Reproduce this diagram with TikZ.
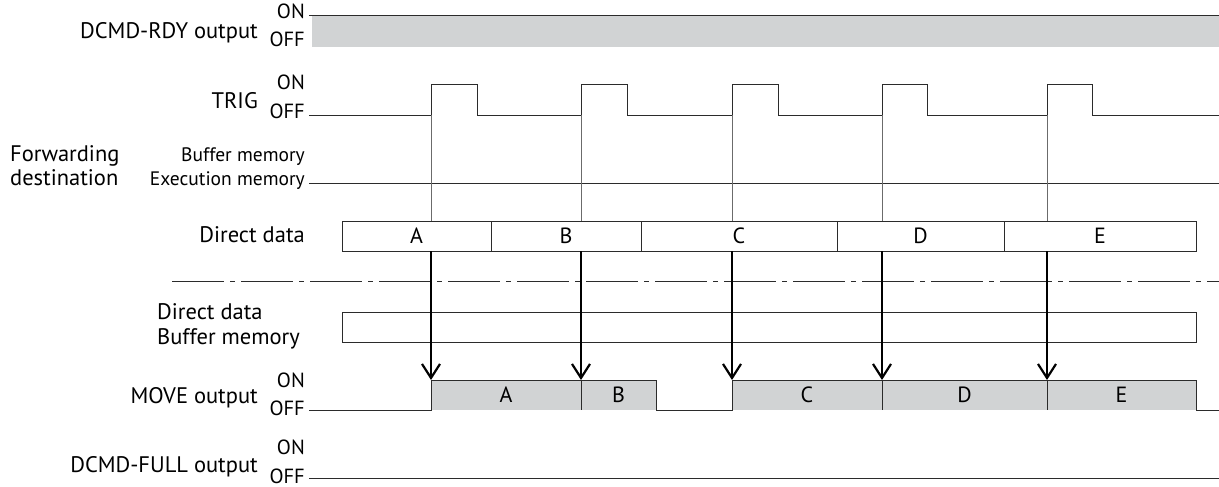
\documentclass[tikz,border=0pt]{standalone}
\usepackage{fontspec}
\setmainfont{PT Sans}
\usetikzlibrary{arrows.meta,positioning}
\definecolor{tcLine}{HTML}{2B2B2B}
\definecolor{tcFill}{HTML}{D1D3D4}
\definecolor{tcGuide}{HTML}{6B6B6B}
\tikzset{
  sig/.style={font=\fontsize{22.5}{24}\selectfont, anchor=base east, inner sep=0pt},
  lvl/.style={font=\fontsize{20.5}{22}\selectfont, anchor=base east, inner sep=0pt},
  mem/.style={font=\fontsize{19.5}{22}\selectfont, anchor=base east, inner sep=0pt},
  wave/.style={draw=tcLine, line width=1pt},
  datacell/.style={draw=tcLine, line width=1pt, minimum height=30pt, inner sep=0pt,
    outer sep=0pt, font=\fontsize{22}{24}\selectfont, anchor=north west},
  moveband/.style={fill=tcFill, minimum height=30pt, inner sep=0pt, outer sep=0pt,
    font=\fontsize{22}{24}\selectfont, anchor=north west},
  guide/.style={draw=tcGuide, line width=0.6pt},
  divider/.style={draw=tcLine, line width=1pt},
  xfer/.style={-{Straight Barb[length=14pt,width=18pt,line width=2.2pt]}, line width=2.6pt, draw=black},
  sepline/.style={draw=tcLine, line width=0.8pt, dash pattern=on 52pt off 6pt on 5pt off 6pt}
}
\begin{document}
\begin{tikzpicture}[x=1pt, y=-1pt]
  \useasboundingbox (0,0) rectangle (1219,487);

  % signal names and levels
  \node[sig] (rdyL) at (258,39) {DCMD-RDY output};
  \node[lvl] (rdyOn) at (305,19) {ON};
  \node[lvl] (rdyOff) at (305,47) {OFF};
  \node[sig] (trigL) at (258,108) {TRIG};
  \node[lvl] (trigOn) at (305,89) {ON};
  \node[lvl] (trigOff) at (305,118) {OFF};
  \node[sig, anchor=base west] (fwd) at (10,161) {Forwarding};
  \node[sig, anchor=base west] (dest) at (10,185) {destination};
  \node[mem] (bufL) at (305,161) {Buffer memory};
  \node[mem] (exeL) at (305,185) {Execution memory};
  \node[sig] (ddL) at (305,242) {Direct data};
  \node[sig, anchor=base west] (ddbL) at (157,319) {Direct data};
  \node[sig, anchor=base west] (bmL) at (157,344) {Buffer memory};
  \node[sig] (moveL) at (258,403) {MOVE output};
  \node[lvl] (moveOn) at (305,387) {ON};
  \node[lvl] (moveOff) at (305,415) {OFF};
  \node[sig] (fullL) at (258,472) {DCMD-FULL output};
  \node[lvl] (fullOn) at (305,454) {ON};
  \node[lvl] (fullOff) at (305,483) {OFF};

  % DCMD-RDY output
  \fill[tcFill] (312,16) rectangle (1219,47);
  \draw[wave] (309,16) -- (1219,16);

  % TRIG
  \draw[wave] (309,115) -- (431,115) -- (431,85) -- (477,85) -- (477,115)
    -- (581,115) -- (581,85) -- (627,85) -- (627,115)
    -- (732,115) -- (732,85) -- (778,85) -- (778,115)
    -- (882,115) -- (882,85) -- (927,85) -- (927,115)
    -- (1047,115) -- (1047,85) -- (1092,85) -- (1092,115) -- (1219,115);
  \foreach \i/\x in {1/431, 2/581, 3/732, 4/882, 5/1047}
    \coordinate (t\i) at (\x,115);

  % forwarding destination
  \draw[wave] (309,183) -- (1219,183);

  % direct data
  \node[datacell, minimum width=149pt] (dA) at (342,221) {A};
  \node[datacell, minimum width=150pt] (dB) at (491,221) {B};
  \node[datacell, minimum width=196pt] (dC) at (641,221) {C};
  \node[datacell, minimum width=167pt] (dD) at (837,221) {D};
  \node[datacell, minimum width=192pt] (dE) at (1004,221) {E};

  \draw[guide] (t1) -- (t1 |- dA.north);
  \draw[guide] (t2) -- (t2 |- dB.north);
  \draw[guide] (t3) -- (t3 |- dC.north);
  \draw[guide] (t4) -- (t4 |- dD.north);
  \draw[guide] (t5) -- (t5 |- dE.north);

  % separator
  \coordinate (sepL) at (172,281);
  \coordinate (sepR) at (1219,281);
  \draw[sepline] (sepL) -- (sepR);

  % buffer memory
  \node[datacell, minimum width=854pt] (buf) at (342,312) {};

  % MOVE output
  \node[moveband, minimum width=150pt] (mA) at (431,380) {A};
  \node[moveband, minimum width=75pt] (mB) at (581,380) {B};
  \node[moveband, minimum width=150pt] (mC) at (732,380) {C};
  \node[moveband, minimum width=165pt] (mD) at (882,380) {D};
  \node[moveband, minimum width=149pt] (mE) at (1047,380) {E};
  \coordinate (moveStart) at (309,410);
  \coordinate (moveEnd) at (1219,410);
  \draw[wave] (moveStart) -- (mA.south west) -- (mA.north west) -- (mB.north east)
    -- (mB.south east) -- (mC.south west) -- (mC.north west) -- (mE.north east)
    -- (mE.south east) -- (moveEnd);
  \draw[divider] (mA.north east) -- (mA.south east);
  \draw[divider] (mC.north east) -- (mC.south east);
  \draw[divider] (mD.north east) -- (mD.south east);

  % DCMD-FULL output
  \draw[wave] (309,478) -- (1219,478);

  % transfers
  \draw[xfer] (t1 |- dA.south) -- (t1 |- mA.north);
  \draw[xfer] (t2 |- dB.south) -- (t2 |- mB.north);
  \draw[xfer] (t3 |- dC.south) -- (t3 |- mC.north);
  \draw[xfer] (t4 |- dD.south) -- (t4 |- mD.north);
  \draw[xfer] (t5 |- dE.south) -- (t5 |- mE.north);
\end{tikzpicture}
\end{document}
